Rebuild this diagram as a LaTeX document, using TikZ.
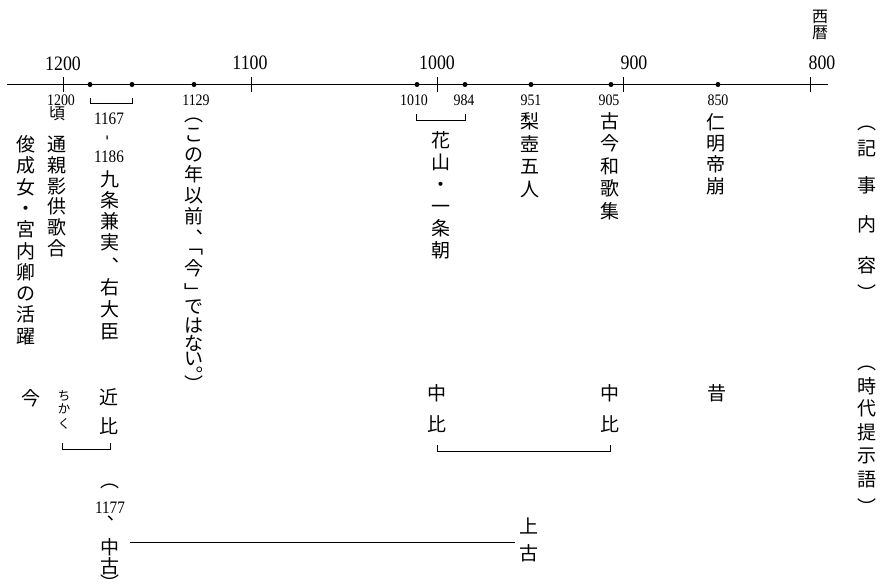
\documentclass[tikz,border=0pt]{standalone}
\usepackage{fontspec}
\newfontfamily\jp{Noto Sans CJK JP}
\newfontfamily\num[FakeStretch=0.87]{Liberation Serif}
\newcommand\vcolumn[4][jc]{\foreach \c/\yy [count=\i] in {#4} \node[#1] (#2-\i) at (#3,\yy) {\c};}
\begin{document}
\begin{tikzpicture}[x=1pt,y=-1pt,
  embox/.style={text height=0.88em,text depth=0.12em},
  jc/.style={font=\jp\fontsize{19}{19}\selectfont,inner sep=0,embox},
  jm/.style={font=\jp\fontsize{16}{16}\selectfont,inner sep=0,embox},
  jt/.style={font=\jp\fontsize{12.5}{12.5}\selectfont,inner sep=0,embox},
  nbig/.style={font=\num\fontsize{20.5}{20.5}\selectfont,inner sep=0},
  nsm/.style={font=\num\fontsize{16}{16}\selectfont,inner sep=0},
  nmid/.style={font=\num\fontsize{17.5}{17.5}\selectfont,inner sep=0},
  dotm/.style={circle,fill=black,inner sep=0,minimum size=5pt},
  axisline/.style={line width=1.3pt},
  tickline/.style={line width=1pt},
  brk/.style={line width=0.8pt}]
\useasboundingbox (0,0) rectangle (880,586);
% axis
\coordinate (axL) at (7,84.5);
\coordinate (axR) at (828,84.5);
\draw[axisline] (axL) -- (axR);
\foreach \x/\n in {63/t1200,251/t1100,437/t1000,623/t900,810/t800}{
  \coordinate (\n-a) at (\x,77);
  \coordinate (\n-b) at (\x,92);
  \draw[tickline] (\n-a) -- (\n-b);}
% tick labels
\node[nbig] (l1200) at (63,64) {1200};
\node[nbig] (l1100) at (250,63) {1100};
\node[nbig] (l1000) at (437,63) {1000};
\node[nbig] (l900) at (634,63) {900};
\node[nbig] (l800) at (822,63) {800};
\node[jm] (sei) at (820,19) {西};
\node[jm] (reki) at (820,35) {暦};
% dots
\foreach \x/\n in {90/d1186,132/d1167,194/d1129,417/d1010,465/d984,531/d951,611/d905,718/d850}
  \node[dotm] (\n) at (\x,84.5) {};
% dot labels
\node[nsm] (y1200) at (61,100.5) {1200};
\node[jm] (koro) at (57,116) {頃};
\node[nsm] (y1129) at (196,100) {1129};
\node[nsm] (y1010) at (414,100) {1010};
\node[nsm] (y984) at (464,100) {984};
\node[nsm] (y951) at (531,100) {951};
\node[nsm] (y905) at (609,100) {905};
\node[nsm] (y850) at (718,100) {850};
\node[nmid] (y1167) at (109,119) {1167};
\node[nmid,rotate=90] (ydash) at (109,138) {-};
\node[nmid] (y1186) at (109,157) {1186};
% brackets at top
\coordinate (b1a) at (90,98); \coordinate (b1b) at (132,98);
\draw[brk] (b1a) -- ++(0,5.5) -| (b1b);
\coordinate (b2a) at (416,114); \coordinate (b2b) at (465,114);
\draw[brk] (b2a) -- ++(0,6.5) -| (b2b);
% vertical texts (records)
\vcolumn{shun}{26}{俊/148,成/169,女/191,・/212,宮/233,内/255,卿/276,の/297,活/318,躍/340}
\vcolumn{michi}{57}{通/148,親/169,影/190,供/210,歌/231,合/252}
\vcolumn{kujo}{110}{九/183,条/204,兼/225,実/246,︑/270,右/291,大/313,臣/335}
\vcolumn{kono}{194}{︵/118,こ/138,の/158,年/178,以/199,前/220,︑/242,﹁/250,今/272,﹂/296,で/310,は/329,な/347,い/362,︒/378.5,︶/387.5}
\vcolumn{kazan}{441}{花/144,山/166,・/188,一/210,条/232,朝/254}
\vcolumn{nashi}{530}{梨/125,壺/148,五/170,人/193}
\vcolumn{kokin}{610}{古/125,今/147,和/170,歌/192,集/215}
\vcolumn{nin}{716}{仁/126,明/147,帝/168,崩/190}
\vcolumn{kiji}{867}{︵/126,記/152,事/189,内/228,容/269,︶/297}
\vcolumn{jidai}{867}{︵/366,時/390,代/412,提/436,示/459,語/483,︶/511}
% period words
\node[jc] (mukashi) at (717,397) {昔};
\node[jc] (ima) at (31,402) {今};
\vcolumn[jt]{chikaku}{64}{ち/397,か/410,く/425}
\vcolumn{kinko}{109}{近/401,比/430}
\vcolumn{chuL}{437}{中/397,比/428}
\vcolumn{chuR}{610}{中/397,比/428}
\node[jc] (p1) at (110,484) {︵};
\node[nmid] (y1177) at (110,508) {1177};
\node[jc] (comma1177) at (105,528) {︑};
\vcolumn{chuko}{110}{中/551,古/570}
\node[jc] (p2) at (110,587) {︶};
\vcolumn{joko}{529}{上/530,古/557}
% brackets at bottom
\coordinate (b3a) at (62,443); \coordinate (b3b) at (110,443);
\draw[brk] (b3a) -- ++(0,6) -| (b3b);
\coordinate (b4a) at (437,445); \coordinate (b4b) at (610,445);
\draw[brk] (b4a) -- ++(0,6.5) -| (b4b);
% long line
\coordinate (lnA) at (130,542); \coordinate (lnB) at (515,542);
\draw[line width=0.9pt] (lnA) -- (lnB);
\end{tikzpicture}
\end{document}
